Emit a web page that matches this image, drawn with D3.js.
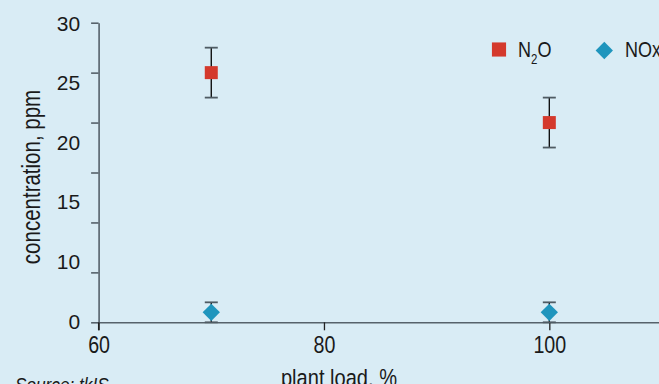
<!DOCTYPE html>
<html>
<head>
<meta charset="utf-8">
<script src="https://cdn.jsdelivr.net/npm/d3@7"></script>
<style>
  html, body { margin: 0; padding: 0; background: #d9ecf5; overflow: hidden; }
  svg { display: block; }
</style>
</head>
<body>
<svg id="chart" width="659" height="384"></svg>
<script>
// Emission measurements at two plant loads
const loads = [70, 100];
const n2oValues = [25, 20];
const n2oErrors = [2.5, 2.5];
const noxValues = [1, 1];
const noxErrors = [1, 1];
const xTicks = [60, 80, 100];
const yTicks = [0, 5, 10, 15, 20, 25, 30];
const yTickLabels = ["30", "25", "20", "15", "10", "0"];
const seriesNames = ["N2O", "NOx"];

const RED = "#d4392c";
const BLUE = "#1f95bd";
const AXIS = "#56626b";
const SANS = "'Liberation Sans', Arial, sans-serif";
const NARROW = 0.82; // horizontal squeeze for the condensed type

const svg = d3.select("#chart");

const x = d3.scaleLinear().domain([60, 110]).range([98.6, 662]);
const y = d3.scaleLinear().domain([0, 30]).range([322.3, 22.7]);

// condensed text placed at (tx, ty), optionally rotated
function narrowText(parent, tx, ty, str, size, opts = {}) {
  const g = parent.append("g")
    .attr("transform", `translate(${tx},${ty}) rotate(${opts.rotate || 0}) scale(${NARROW},1)`);
  const t = g.append("text")
    .attr("text-anchor", opts.anchor || "start")
    .attr("font-family", SANS)
    .attr("font-size", size)
    .attr("fill", "#1a1a1a");
  if (opts.italic) t.attr("font-style", "italic");
  if (str !== null) t.text(str);
  return t;
}

// x axis
const xAxis = svg.append("g")
  .attr("transform", `translate(0,${y(0)})`)
  .call(d3.axisBottom(x).tickValues(xTicks).tickSize(8).tickSizeOuter(0).tickPadding(6));
xAxis.select(".domain").attr("stroke", AXIS).attr("stroke-width", 1.6);
xAxis.selectAll(".tick line").attr("stroke", "#222").attr("stroke-width", 1.3);
xAxis.selectAll(".tick text")
  .attr("font-family", SANS).attr("font-size", 24).attr("fill", "#1a1a1a")
  .attr("transform", `scale(${NARROW},1)`);

// y axis: ticks every 5, labels in their own evenly spaced column
const yAxis = svg.append("g")
  .attr("transform", `translate(${x(60)},0)`)
  .call(d3.axisLeft(y).tickValues(yTicks).tickSize(7.5).tickSizeOuter(0).tickFormat(""));
yAxis.select(".domain").attr("stroke", AXIS).attr("stroke-width", 1.6);
yAxis.selectAll(".tick line").attr("stroke", AXIS).attr("stroke-width", 1.6);
// extend the vertical axis down to the 60 tick
yAxis.append("line")
  .attr("x1", 0).attr("x2", 0).attr("y1", y(0)).attr("y2", y(0) + 8)
  .attr("stroke", "#222").attr("stroke-width", 1.3);

const labelPos = d3.scalePoint().domain(yTickLabels).range([y(30) + 0.5, y(0) - 1.3]);
svg.append("g").selectAll("text")
  .data(yTickLabels)
  .join("text")
  .attr("x", x(60) - 18.5)
  .attr("y", d => labelPos(d))
  .attr("dy", "0.36em")
  .attr("text-anchor", "end")
  .attr("font-family", SANS)
  .attr("font-size", 21)
  .attr("fill", "#1a1a1a")
  .text(d => d);

// axis titles and source line
narrowText(svg, 339, 385.5, "plant load, %", 24.5, { anchor: "middle" });
narrowText(svg, 40, 177, "concentration, ppm", 25, { anchor: "middle", rotate: -90 });
narrowText(svg, 15, 392, "Source: tkIS", 21, { italic: true });

// error bars and markers
function drawSeries(values, errors, color, rotate, size) {
  const g = svg.append("g");
  const d = loads.map((l, i) => ({ l, v: values[i], e: errors[i] }));
  g.selectAll("line.stem").data(d).join("line")
    .attr("x1", p => x(p.l)).attr("x2", p => x(p.l))
    .attr("y1", p => y(p.v + p.e)).attr("y2", p => y(p.v - p.e))
    .attr("stroke", "#111").attr("stroke-width", 1.4);
  [1, -1].forEach(s => {
    g.selectAll(null).data(d).join("line")
      .attr("x1", p => x(p.l) - 6.5).attr("x2", p => x(p.l) + 6.5)
      .attr("y1", p => y(p.v + s * p.e)).attr("y2", p => y(p.v + s * p.e))
      .attr("stroke", "#4f5b63").attr("stroke-width", 1.8);
  });
  g.selectAll("path").data(d).join("path")
    .attr("d", d3.symbol().type(d3.symbolSquare).size(size))
    .attr("transform", p => `translate(${x(p.l)},${y(p.v)}) rotate(${rotate})`)
    .attr("fill", color);
}
drawSeries(n2oValues, n2oErrors, RED, 0, 169);
drawSeries(noxValues, noxErrors, BLUE, 45, 150);

// legend
const legend = svg.append("g");
legend.append("path")
  .attr("d", d3.symbol().type(d3.symbolSquare).size(200))
  .attr("transform", "translate(499,49.5)")
  .attr("fill", RED);
const n2oText = narrowText(legend, 518, 56.5, null, 22);
n2oText.append("tspan").text("N");
n2oText.append("tspan").attr("font-size", 14).attr("dy", 7).text("2");
n2oText.append("tspan").attr("dy", -7).text("O");

legend.append("path")
  .attr("d", d3.symbol().type(d3.symbolSquare).size(150))
  .attr("transform", "translate(604.3,50.5) rotate(45)")
  .attr("fill", BLUE);
narrowText(legend, 625, 56.5, seriesNames[1], 22);
</script>
</body>
</html>
